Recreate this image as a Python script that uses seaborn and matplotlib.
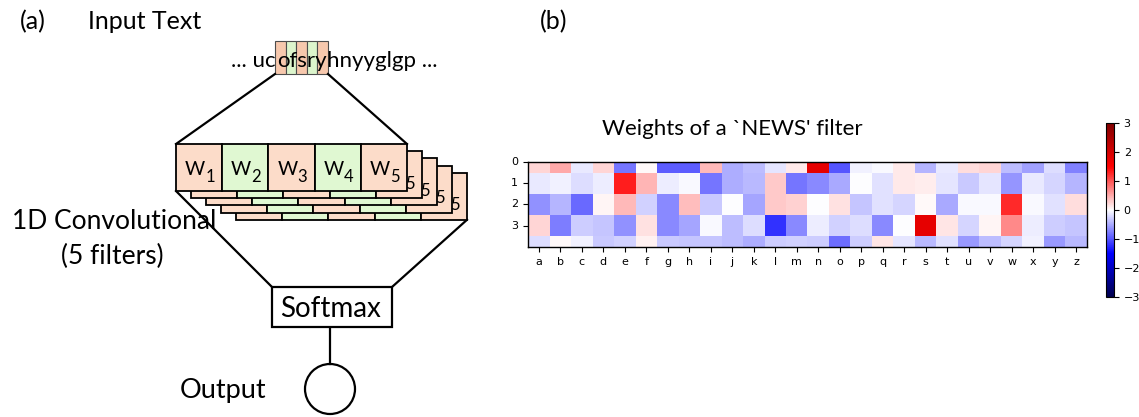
import numpy as np
import pandas as pd
import matplotlib
matplotlib.use("Agg")
import matplotlib.pyplot as plt
from matplotlib.patches import Rectangle, Circle
import seaborn as sns

# ---------------- data ----------------
LETTERS = list("abcdefghijklmnopqrstuvwxyz")
ROW_0 = [0.24, 0.50, -0.12, 0.24, -0.80, 0.04, -0.95, -0.95, 0.40, -0.47, -0.38, -0.15, 0.12,
         1.80, -1.00, -0.09, -0.04, 0.12, -0.44, -0.12, 0.20, 0.24, -0.38, -0.56, -0.20, -0.73]
ROW_1 = [-0.12, -0.08, -0.20, -0.10, 1.32, 0.44, -0.10, -0.03, -0.80, -0.47, -0.41, 0.32, -0.80,
         -0.70, -0.50, -0.02, -0.18, 0.12, 0.10, -0.15, -0.32, -0.15, -0.62, -0.12, -0.24, -0.44]
ROW_2 = [-0.65, -0.44, -0.88, 0.07, 0.41, -0.26, -0.70, 0.38, -0.32, -0.02, -0.53, 0.32, 0.26,
         -0.02, 0.18, -0.35, -0.18, -0.24, 0.04, -0.50, -0.04, -0.04, 1.26, -0.04, -0.18, 0.20]
ROW_3 = [0.24, -0.77, -0.30, -0.35, -0.65, 0.18, -0.70, -0.53, -0.04, -0.38, -0.20, -1.20, -0.68,
         -0.10, -0.26, -0.20, -0.70, -0.02, 1.80, 0.16, -0.24, 0.07, 0.70, -0.10, -0.30, -0.35]
ROW_4 = [-0.20, 0.04, -0.09, -0.32, -0.26, 0.09, -0.32, -0.35, -0.35, -0.38, -0.47, -0.30, -0.26,
         -0.30, -0.85, -0.30, 0.16, -0.15, -0.41, -0.18, -0.60, -0.38, -0.24, -0.09, -0.60, -0.41]
ROW_TICKS = ["0", "1", "2", "3"]
CBAR_TICKS = [-3, -2, -1, 0, 1, 2, 3]
SEQ_LEFT, SEQ_WINDOW, SEQ_RIGHT = "... uc", "ofsry", "hnyyglgp ..."
FILTER_LABELS = ["1", "2", "3", "4", "5"]

# ---------------- style ----------------
FONT = "Lato"
PEACH = "#fcdcc9"
GREEN = "#e0f8d2"
PEACH_IN = "#f7c8ad"
GREEN_IN = "#dcf5cc"
LW = 1.6

fig = plt.figure(figsize=(11.39, 4.17), dpi=100)

# ---- (a) diagram, drawn in pixel coordinates ----
ax_a = fig.add_axes([0, 0, 1, 1])
ax_a.set_xlim(0, 1139)
ax_a.set_ylim(417, 0)
ax_a.axis("off")

def txt(x, y, s, size, ha="left", va="baseline", **kw):
    ax_a.text(x, y, s, fontsize=size, ha=ha, va=va, family=FONT, **kw)

txt(20, 29, "(a)", 18)
txt(88, 29, "Input Text", 18)
txt(540, 29, "(b)", 18)

# input window boxes
bx0, bw, by0, bh = 275, 10.6, 41, 33
for i in range(5):
    ax_a.add_patch(Rectangle((bx0 + i * bw, by0), bw, bh, fc=PEACH_IN if i % 2 == 0 else GREEN_IN,
                             ec="0.3", lw=0.8, zorder=1))
txt(bx0 + 1, 67, SEQ_LEFT, 16, ha="right", zorder=3)
txt(bx0 + 2.5 * bw, 67, SEQ_WINDOW, 16, ha="center", zorder=3)
txt(bx0 + 5 * bw - 1, 67, SEQ_RIGHT, 16, ha="left", zorder=3)

# filter stack
fx0, fy0, cw, ch = 176, 144, 46.2, 47
dx, dy = 15, 7.2
# trapezoid lines
ax_a.plot([bx0, fx0], [by0 + bh, fy0], color="k", lw=LW, zorder=2)
ax_a.plot([bx0 + 5 * bw, fx0 + 5 * cw], [by0 + bh, fy0], color="k", lw=LW, zorder=2)
ax_a.plot([fx0, 272], [fy0 + ch, 287], color="k", lw=LW, zorder=2)
ax_a.plot([fx0 + 5 * cw + 4 * dx, 392], [fy0 + ch + 4 * dy, 287], color="k", lw=LW, zorder=2)

for layer in range(4, -1, -1):
    ox, oy = fx0 + layer * dx, fy0 + layer * dy
    z = 10 - layer
    for i in range(5):
        ax_a.add_patch(Rectangle((ox + i * cw, oy), cw, ch, fc=PEACH if i % 2 == 0 else GREEN,
                                 ec="k", lw=1.3, zorder=z))
        cx = ox + i * cw + cw / 2
        # back layers are hidden except for the last subscript peeking out
        if layer == 0:
            ax_a.text(cx - 4, oy + ch / 2 + 2, "W", fontsize=14, ha="center", va="center",
                      family=FONT, zorder=z)
        if layer == 0 or i == 4:
            ax_a.text(cx + 11, oy + ch / 2 + 9, FILTER_LABELS[i], fontsize=12, ha="center",
                      va="center", family=FONT, zorder=z)

txt(12, 229, "1D Convolutional", 19, zorder=20)
txt(112, 264, "(5 filters)", 19, ha="center", zorder=20)

# softmax + output
ax_a.add_patch(Rectangle((272, 287), 120, 40, fc="white", ec="k", lw=LW, zorder=3))
txt(331, 317, "Softmax", 20, ha="center", zorder=4)
ax_a.plot([330, 330], [327, 364], color="k", lw=LW)
ax_a.add_patch(Circle((330, 389), 25, fc="white", ec="k", lw=LW))
txt(180, 398, "Output", 19.5)

# ---- (b) heatmap ----
weights = pd.DataFrame([ROW_0, ROW_1, ROW_2, ROW_3, ROW_4], columns=LETTERS)
ax_b = fig.add_axes([0.4636, 0.4077, 0.4907, 0.2038])
cax = fig.add_axes([0.9710, 0.2878, 0.0070, 0.4173])
sns.heatmap(weights, cmap="seismic", vmin=-3, vmax=3, ax=ax_b, cbar_ax=cax,
            cbar_kws={"ticks": CBAR_TICKS})
ax_b.set_ylim(4.5, 0.5)
ax_b.set_yticks(np.arange(len(ROW_TICKS)) + 0.5, ROW_TICKS, rotation=0)
ax_b.set_xticks(np.arange(len(LETTERS)) + 0.5, LETTERS, rotation=0)
for s in ax_b.spines.values():
    s.set_visible(True)
    s.set_linewidth(1.0)
ax_b.tick_params(labelsize=8, length=3.5, width=0.8)
cb = ax_b.collections[0].colorbar
cb.outline.set_linewidth(0.8)
cax.tick_params(labelsize=8, length=3.5, width=0.8)
fig.text(732 / 1139, 1 - 135 / 417, "Weights of a `NEWS' filter", fontsize=16, ha="center",
         va="baseline", family=FONT)

fig.savefig("out.png", dpi=100)
